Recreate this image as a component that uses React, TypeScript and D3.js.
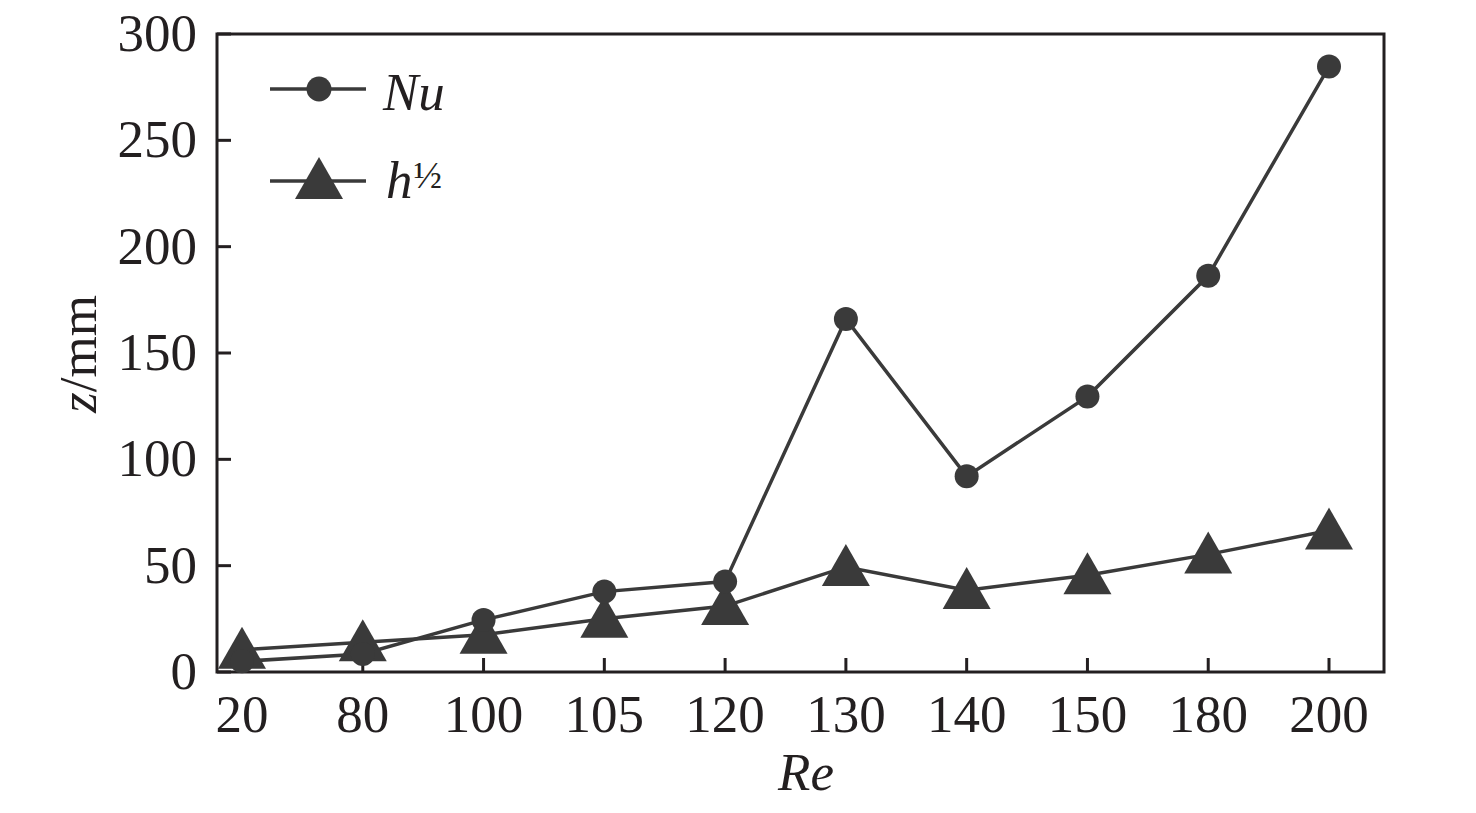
import * as d3 from 'd3';

// Re categories on the x axis
const reLabels = ['20', '80', '100', '105', '120', '130', '140', '150', '180', '200'];
// z/mm values
const nuValues = [5, 8.5, 24.5, 37.8, 42.5, 166, 92, 129.5, 186.3, 284.7];
const hValues = [10.5, 14, 17.5, 25, 31, 49.4, 38.5, 45.5, 55.3, 66.5];
const yTicks = [0, 50, 100, 150, 200, 250, 300];

const W = 1476;
const H = 813;
const plot = { left: 217, right: 1384, top: 34, bottom: 672 };
const ink = '#231f20';
const series = '#3a3a3a';
const font = '"Liberation Serif", "Times New Roman", serif';

const triPath = 'M0,-23L24,19L-24,19Z';

export default function App() {
  const x = d3.scalePoint<string>().domain(reLabels).range([242, 1329]);
  const y = d3.scaleLinear().domain([0, 300]).range([plot.bottom, plot.top]);

  const line = d3
    .line<number>()
    .x((_, i) => x(reLabels[i]) ?? 0)
    .y(d => y(d));

  return (
    <svg
      width={W}
      height={H}
      viewBox={`0 0 ${W} ${H}`}
      style={{ position: 'absolute', left: 0, top: 0, background: '#fff' }}
      fontFamily={font}
    >
      <rect width={W} height={H} fill="#fff" />

      {/* y ticks, inward */}
      {yTicks.map(t => (
        <g key={`y${t}`}>
          <line x1={plot.left} x2={plot.left + 14} y1={y(t)} y2={y(t)} stroke={ink} strokeWidth={3} />
          <text x={197} y={y(t) + 17} textAnchor="end" fontSize={53} fill={ink}>
            {t}
          </text>
        </g>
      ))}

      {/* x ticks, inward */}
      {reLabels.map(c => (
        <g key={`x${c}`}>
          <line x1={x(c)} x2={x(c)} y1={plot.bottom} y2={plot.bottom - 14} stroke={ink} strokeWidth={3} />
          <text x={x(c)} y={732} textAnchor="middle" fontSize={53} fill={ink}>
            {c}
          </text>
        </g>
      ))}

      {/* frame */}
      <rect
        x={plot.left}
        y={plot.top}
        width={plot.right - plot.left}
        height={plot.bottom - plot.top}
        fill="none"
        stroke={ink}
        strokeWidth={3}
      />

      {/* series lines */}
      <path d={line(nuValues) ?? ''} fill="none" stroke={series} strokeWidth={3.5} />
      <path d={line(hValues) ?? ''} fill="none" stroke={series} strokeWidth={3.5} />

      {/* markers */}
      {hValues.map((v, i) => (
        <path key={`t${i}`} d={triPath} transform={`translate(${x(reLabels[i])},${y(v)})`} fill={series} />
      ))}
      {nuValues.map((v, i) => (
        <circle key={`c${i}`} cx={x(reLabels[i])} cy={y(v)} r={12} fill={series} />
      ))}

      {/* legend */}
      <line x1={270} x2={366} y1={89} y2={89} stroke={series} strokeWidth={3.5} />
      <circle cx={319} cy={89} r={12.5} fill={series} />
      <text x={383} y={110} fontSize={53} fontStyle="italic" fill={ink}>
        Nu
      </text>
      <line x1={270} x2={366} y1={181} y2={181} stroke={series} strokeWidth={3.5} />
      <path d={triPath} transform="translate(319,180)" fill={series} />
      <text x={386} y={198} fontSize={53} fill={ink}>
        <tspan fontStyle="italic">h</tspan>
        <tspan fontSize={38} dx={1} dy={-10}>½</tspan>
      </text>

      {/* axis titles */}
      <text x={806} y={790} textAnchor="middle" fontSize={53} fontStyle="italic" fill={ink}>
        Re
      </text>
      <text transform="translate(96,354) rotate(-90)" textAnchor="middle" fontSize={53} fill={ink}>
        <tspan fontStyle="italic">z</tspan>/mm
      </text>
    </svg>
  );
}
